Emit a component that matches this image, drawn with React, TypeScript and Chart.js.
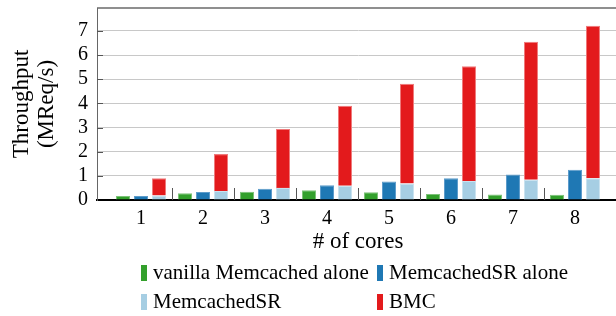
import React, { useEffect, useRef } from "react";
import { Chart, registerables } from "chart.js";

Chart.register(...registerables);

const cores = [1, 2, 3, 4, 5, 6, 7, 8];
const vanillaAlone = [0.17, 0.28, 0.34, 0.4, 0.32, 0.25, 0.23, 0.22];
const memcachedSRAlone = [0.17, 0.33, 0.47, 0.61, 0.77, 0.9, 1.06, 1.25];
const memcachedSR = [0.19, 0.37, 0.5, 0.59, 0.68, 0.79, 0.84, 0.9];
const bmcTotal = [0.9, 1.9, 2.94, 3.9, 4.81, 5.54, 6.55, 7.21];
const yTicks = [0, 1, 2, 3, 4, 5, 6, 7];

const seriesLabels = ["vanilla Memcached alone", "MemcachedSR alone", "MemcachedSR", "BMC"];
const seriesColors = ["#33a02c", "#1f78b4", "#a6cee3", "#e31a1c"];
const seriesBorders = ["#7cc278", "#5d9ccb", "#c9e2ef", "#ef7a7b"];

const FONT = "'Liberation Serif', 'Times New Roman', serif";

const framePlugin = {
  id: "frame",
  beforeDatasetsDraw(chart: any) {
    const { ctx, chartArea, scales } = chart;
    const { left, right, top, bottom } = chartArea;
    ctx.save();
    ctx.strokeStyle = "#6a6a6a";
    ctx.lineWidth = 1.5;
    ctx.beginPath();
    ctx.moveTo(left, top);
    ctx.lineTo(right, top);
    ctx.stroke();
    ctx.lineWidth = 1;
    ctx.strokeStyle = "#555";
    yTicks.forEach((v) => {
      if (v === 0) return;
      const y = Math.round(scales.y.getPixelForValue(v)) + 0.5;
      ctx.beginPath();
      ctx.moveTo(left, y);
      ctx.lineTo(left + 6, y);
      ctx.stroke();
    });
    for (let i = 0; i < cores.length - 1; i++) {
      const x = Math.round(scales.x.getPixelForValue((cores[i] + cores[i + 1]) / 2)) + 0.5;
      ctx.beginPath();
      ctx.moveTo(x, bottom - 12);
      ctx.lineTo(x, bottom);
      ctx.stroke();
    }
    ctx.restore();
  },
};

export default function App() {
  const ref = useRef<HTMLCanvasElement | null>(null);

  useEffect(() => {
    if (!ref.current) return;
    const mk = (arr: any[]) => cores.map((c, i) => ({ x: c, y: arr[i] }));
    const chart = new Chart(ref.current, {
      type: "bar",
      data: {
        datasets: [
          { label: seriesLabels[0], data: mk(vanillaAlone), stack: "a" },
          { label: seriesLabels[1], data: mk(memcachedSRAlone), stack: "b" },
          { label: seriesLabels[2], data: mk(memcachedSR), stack: "c" },
          {
            label: seriesLabels[3],
            data: mk(bmcTotal.map((t, i) => [memcachedSR[i], t])),
            stack: "c",
          },
        ].map((d, i) => ({
          ...d,
          backgroundColor: seriesColors[i],
          borderColor: seriesBorders[i],
          borderWidth: 1,
          categoryPercentage: 54 / 62,
          barPercentage: 14 / 18,
        })) as any,
      },
      options: {
        animation: false,
        responsive: false,
        maintainAspectRatio: false,
        layout: { padding: { top: 8, left: 0, right: 3, bottom: 58 } },
        plugins: { legend: { display: false }, tooltip: { enabled: false } },
        scales: {
          x: {
            type: "linear",
            offset: false,
            min: 0.29,
            max: 8.71,
            afterBuildTicks: (s: any) => {
              s.ticks = cores.map((v) => ({ value: v }));
            },
            afterFit: (s: any) => {
              s.height = 58;
              s.paddingLeft = 0;
              s.paddingRight = 0;
            },
            grid: { display: false, drawTicks: false },
            border: { display: true, color: "#000", width: 2 },
            ticks: {
              color: "#000",
              font: { family: FONT, size: 20 },
              padding: 7,
              maxRotation: 0,
              autoSkip: false,
              callback: (v: any) => String(v),
            },
            title: {
              display: true,
              text: "# of cores",
              color: "#000",
              font: { family: FONT, size: 23 },
              padding: { top: 0, bottom: 2 },
            },
          },
          y: {
            type: "linear",
            stacked: false,
            min: 0,
            max: 7.95,
            afterBuildTicks: (s: any) => {
              s.ticks = yTicks.map((v) => ({ value: v }));
            },
            afterFit: (s: any) => {
              s.width = 97;
              s.paddingTop = 0;
              s.paddingBottom = 0;
            },
            grid: {
              color: (c: any) => (c.tick && c.tick.value === 0 ? "rgba(0,0,0,0)" : "#c8c8c8"),
              lineWidth: 1,
              drawTicks: false,
            },
            border: { display: true, color: "#666", width: 1 },
            ticks: {
              color: "#000",
              font: { family: FONT, size: 20 },
              padding: 9,
            },
            title: {
              display: true,
              text: ["Throughput", "(MReq/s)"],
              color: "#000",
              font: { family: FONT, size: 23, lineHeight: 1.1 },
              padding: { top: 9, bottom: 0 },
            },
          },
        },
      },
      plugins: [framePlugin],
    } as any);
    return () => chart.destroy();
  }, []);

  return (
    <div
      style={{
        position: "fixed",
        left: 0,
        top: 0,
        width: 616,
        height: 316,
        overflow: "hidden",
        background: "#fff",
      }}
    >
      <canvas
        ref={ref}
        width={622}
        height={316}
        style={{ position: "absolute", left: 0, top: 0, width: 622, height: 316 }}
      />
      <div
        style={{
          position: "absolute",
          left: 141,
          top: 258,
          display: "grid",
          gridTemplateColumns: "236px auto",
          gridAutoRows: "29px",
          fontFamily: FONT,
          fontSize: 21,
          color: "#000",
        }}
      >
        {seriesLabels.map((l, i) => (
          <div key={l} style={{ display: "flex", alignItems: "center", whiteSpace: "nowrap" }}>
            <span
              style={{
                display: "inline-block",
                width: 6,
                height: 16,
                background: seriesColors[i],
                marginRight: 6,
              }}
            />
            <span style={{ lineHeight: "29px" }}>{l}</span>
          </div>
        ))}
      </div>
    </div>
  );
}
